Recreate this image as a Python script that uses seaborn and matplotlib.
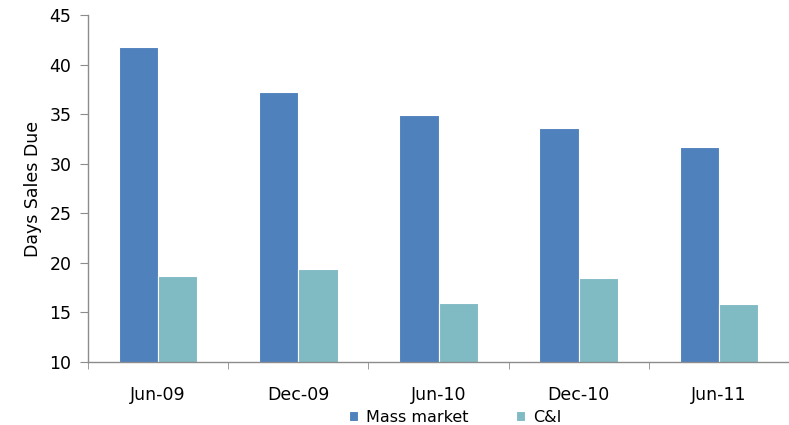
import pandas as pd
import matplotlib
matplotlib.use("Agg")
import matplotlib.pyplot as plt
import seaborn as sns

periods = ["Jun-09", "Dec-09", "Jun-10", "Dec-10", "Jun-11"]
mass_market = [41.8, 37.2, 34.9, 33.6, 31.7]
c_and_i = [18.7, 19.4, 16.0, 18.5, 15.9]
series_names = ["Mass market", "C&I"]

df = pd.DataFrame({
    "period": periods * 2,
    "series": [series_names[0]] * len(periods) + [series_names[1]] * len(periods),
    "days": mass_market + c_and_i,
})

sns.set_style("white")
plt.rcParams["font.family"] = ["DejaVu Sans"]
plt.rcParams["text.color"] = "black"
plt.rcParams["axes.labelcolor"] = "black"
plt.rcParams["xtick.color"] = "black"
plt.rcParams["ytick.color"] = "black"

fig = plt.figure(figsize=(7.89, 4.25), dpi=100)
ax = fig.add_axes([88 / 789, 1 - 362 / 425, 1 - 88 / 789, (362 - 15) / 425])

palette = {"Mass market": "#4F81BD", "C&I": "#80BAC3"}
sns.barplot(data=df, x="period", y="days", hue="series", order=periods,
            hue_order=series_names, palette=palette, width=0.56, gap=0,
            saturation=1, edgecolor="white", linewidth=0.8, ax=ax)

ax.set_ylim(10, 45)
ax.set_xlim(-0.5, len(periods) - 0.5)
ax.set_yticks(range(10, 46, 5))
ax.set_xlabel("")
ax.set_ylabel("Days Sales Due", fontsize=12.5, labelpad=5)

for side in ["top", "right"]:
    ax.spines[side].set_visible(False)
for side in ["left", "bottom"]:
    ax.spines[side].set_color("#8c8c8c")
    ax.spines[side].set_linewidth(1)

ax.tick_params(axis="y", length=6, color="#8c8c8c", labelsize=12.5, pad=6, left=True)
ax.tick_params(axis="x", which="major", length=0, labelsize=12.5, pad=17)
ax.set_xticks([i + 0.5 for i in range(-1, len(periods))], minor=True)
ax.tick_params(axis="x", which="minor", length=5, color="#8c8c8c", bottom=True)

handles, labels = ax.get_legend_handles_labels()
ax.get_legend().remove()
fig.legend(handles, labels, loc="center", bbox_to_anchor=(455 / 789, 1 - 417 / 425),
           ncol=2, frameon=False, fontsize=11.5, handlelength=0.55, handleheight=0.55,
           handletextpad=0.5, columnspacing=3.0, borderpad=0)

fig.savefig("out.png", dpi=100)
